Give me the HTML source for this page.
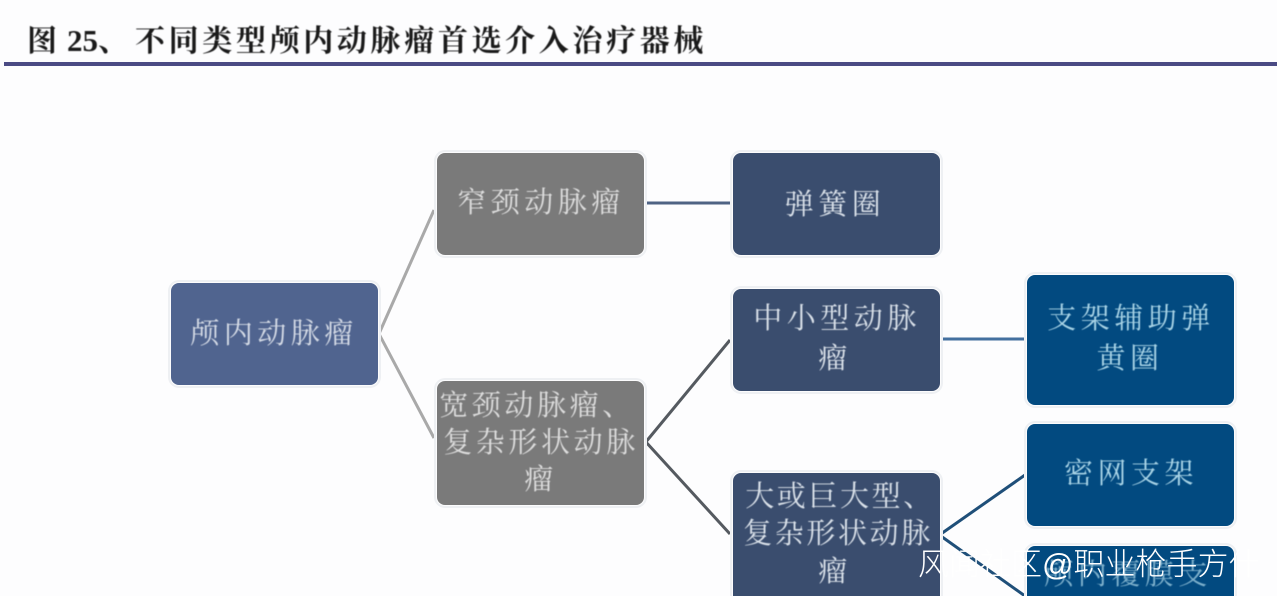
<!DOCTYPE html>
<html lang="zh">
<head>
<meta charset="utf-8">
<style>
html,body{margin:0;padding:0;background:#fdfdfe;width:1277px;height:596px;overflow:hidden}
#p{position:relative;width:1277px;height:596px;overflow:hidden;background:#fdfdfe;font-family:"Liberation Serif","Noto Serif CJK SC",serif}
.b{position:absolute;width:207px;border-radius:8px;box-sizing:border-box;box-shadow:0 0 0 1px #fcfcfd,0 0 0 3px #eef0f3}
.c{border-radius:8px 8px 0 0}
.t{position:absolute;white-space:nowrap;text-align:center;font-size:29px;line-height:36px;letter-spacing:4.5px;transform:translate(-50%,-50%);filter:blur(.5px);font-family:"Liberation Serif","Noto Serif CJK SC",serif}
.h{position:absolute;top:22px;font-size:30px;line-height:40px;font-weight:700;color:#1a1a1a;white-space:nowrap;filter:blur(.4px)}
svg{position:absolute;left:0;top:0}
.g{background:#7a7a7a}.gt{color:#dedede}
.n{background:#3a4d6e}.nt{color:#dbe2ea}
.d{background:#024a80}.dt{color:#a9d4e6}
</style>
</head>
<body>
<div id="p">
<div class="h" style="left:27px">图</div>
<div class="h" style="left:67px;font-size:31px;top:21px">25、</div>
<div class="h" style="left:135px;letter-spacing:3.65px">不同类型颅内动脉瘤首选介入治疗器械</div>
<div style="position:absolute;left:4px;top:62px;width:1273px;height:4px;background:#4b4b84"></div>

<svg width="1277" height="596">
<g fill="none" stroke-width="3">
<path d="M378 336L434 210M378 332L434 438" stroke="#a9a9a9"/>
<path d="M644 203H731" stroke="#4f6384"/>
<path d="M645 443L730 340M645 441L730 534" stroke="#555a60"/>
<path d="M940 339H1025" stroke="#44709f"/>
<path d="M938 536L1025 475M938 534L1025 596" stroke="#1f4f79"/>
</g>
</svg>

<div class="b" style="left:171px;top:283px;height:102px;background:#50648f"></div>
<div class="b g" style="left:437px;top:153px;height:102px"></div>
<div class="b g" style="left:437px;top:381px;height:124px"></div>
<div class="b n" style="left:733px;top:153px;height:102px"></div>
<div class="b n" style="left:733px;top:289px;height:102px"></div>
<div class="b n c" style="left:733px;top:473px;height:123px"></div>
<div class="b d" style="left:1027px;top:275px;height:130px"></div>
<div class="b d" style="left:1027px;top:424px;height:102px"></div>
<div class="b d c" style="left:1027px;top:546px;height:50px"></div>

<div class="t" style="left:274px;top:334px;color:#d5dbe6">颅内动脉瘤</div>
<div class="t gt" style="left:541px;top:203px">窄颈动脉瘤</div>
<div class="t gt" style="left:537px;top:406px;letter-spacing:3.6px">宽颈动脉瘤、</div>
<div class="t gt" style="left:541px;top:443px;letter-spacing:3.6px">复杂形状动脉</div>
<div class="t gt" style="left:541px;top:480px">瘤</div>
<div class="t nt" style="left:835px;top:205px">弹簧圈</div>
<div class="t nt" style="left:837px;top:319px">中小型动脉</div>
<div class="t nt" style="left:835px;top:359px">瘤</div>
<div class="t nt" style="left:840px;top:497px;letter-spacing:2.6px">大或巨大型、</div>
<div class="t nt" style="left:838px;top:534px;letter-spacing:2.6px">复杂形状动脉</div>
<div class="t nt" style="left:835px;top:572px">瘤</div>
<div class="t dt" style="left:1131px;top:319px">支架辅助弹</div>
<div class="t dt" style="left:1130px;top:359px">黄圈</div>
<div class="t dt" style="left:1131px;top:474px">密网支架</div>
<div class="t dt" style="left:1128px;top:575px;opacity:.75">颅内覆膜支</div>

<div style="position:absolute;left:918px;top:544px;font-family:'Liberation Sans','Noto Sans CJK SC',sans-serif;font-size:31px;line-height:42px;color:#fff;white-space:nowrap;font-weight:300">风闻社区@职业枪手方什</div>
</div>
</body>
</html>
